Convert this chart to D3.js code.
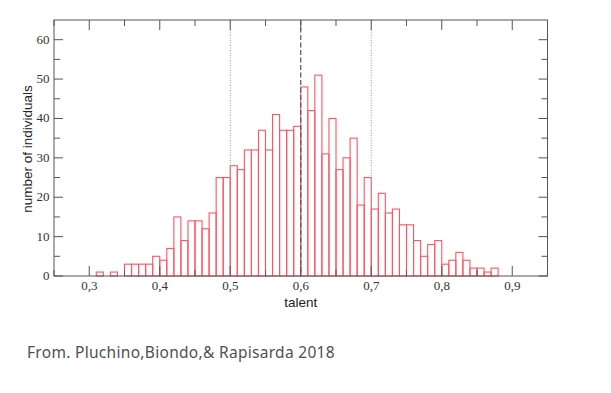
<!DOCTYPE html>
<html>
<head>
<meta charset="utf-8">
<script src="https://cdn.jsdelivr.net/npm/d3@7"></script>
<style>
  body{margin:0;background:#fff;}
  .tick_lbl{font-family:"Liberation Serif",serif;font-size:13px;fill:#333;}
  .axis_ttl{font-family:"Liberation Sans",Arial,sans-serif;font-size:13.5px;fill:#222;}
  .caption{font-family:"Noto Sans",sans-serif;font-size:15.5px;fill:#505050;letter-spacing:0.3px;}
  .bar{fill:none;stroke:#ff5563;stroke-width:1.1;}
  .frame{fill:none;stroke:#555;stroke-width:1;}
  .tk{stroke:#555;stroke-width:1;}
</style>
</head>
<body>
<svg></svg>
<script>
// histogram bins (left edge, width 0.01)
const bin_start = [0.31,0.32,0.33,0.34,0.35,0.36,0.37,0.38,0.39,0.40,
                   0.41,0.42,0.43,0.44,0.45,0.46,0.47,0.48,0.49,0.50,
                   0.51,0.52,0.53,0.54,0.55,0.56,0.57,0.58,0.59,0.60,
                   0.61,0.62,0.63,0.64,0.65,0.66,0.67,0.68,0.69,0.70,
                   0.71,0.72,0.73,0.74,0.75,0.76,0.77,0.78,0.79,0.80,
                   0.81,0.82,0.83,0.84,0.85,0.86,0.87];
const counts = [1,0,1,0,3,3,3,3,5,4,
                7,15,9,14,14,12,16,25,25,28,
                27,32,32,37,32,41,37,37,38,48,
                42,51,31,40,27,30,35,18,25,17,
                21,16,17,13,13,9,5,8,9,3,
                4,6,4,2,2,1,2];
const bin_w = 0.01;
const x_ticks = [0.3,0.4,0.5,0.6,0.7,0.8,0.9];
const x_minor = [0.25,0.35,0.45,0.55,0.65,0.75,0.85,0.95];
const y_ticks = [0,10,20,30,40,50,60];
const y_minor = [5,15,25,35,45,55];
const dotted_at = [0.5,0.7];
const dashed_at = [0.6];

const W = 611, H = 393;
const svg = d3.select("svg").attr("width",W).attr("height",H);

const x_scale = d3.scaleLinear().domain([0.25,0.95]).range([54,547.5]);
const y_scale = d3.scaleLinear().domain([0,65]).range([276,20]);
const fmt = v => d3.format(".1f")(v).replace(".",",");

// bars
const bars = bin_start.map((s,i)=>({s:s,c:counts[i]})).filter(d=>d.c>0);
svg.append("g").selectAll("rect").data(bars).enter()
  .append("rect").attr("class","bar")
  .attr("x",d=>x_scale(d.s)).attr("width",d=>x_scale(d.s+bin_w)-x_scale(d.s))
  .attr("y",d=>y_scale(d.c)).attr("height",d=>y_scale(0)-y_scale(d.c));

// reference lines
svg.append("g").selectAll("line").data(dotted_at).enter()
  .append("line").attr("x1",d=>x_scale(d)).attr("x2",d=>x_scale(d))
  .attr("y1",y_scale(65)).attr("y2",y_scale(0))
  .attr("stroke","#999").attr("stroke-width",1).attr("stroke-dasharray","1,1.5");
svg.append("g").selectAll("line").data(dashed_at).enter()
  .append("line").attr("x1",d=>x_scale(d)).attr("x2",d=>x_scale(d))
  .attr("y1",y_scale(65)).attr("y2",y_scale(0))
  .attr("stroke","#555").attr("stroke-width",1.2).attr("stroke-dasharray","5,2.5");

// frame
const [x0,x1] = x_scale.range(), [y0,y1] = y_scale.range();
svg.append("rect").attr("class","frame")
  .attr("x",x0).attr("y",y1).attr("width",x1-x0).attr("height",y0-y1);

// ticks pointing inward
function x_tick(v,len){
  const g = svg.append("g");
  g.append("line").attr("class","tk").attr("x1",x_scale(v)).attr("x2",x_scale(v))
    .attr("y1",y0).attr("y2",y0-len);
  g.append("line").attr("class","tk").attr("x1",x_scale(v)).attr("x2",x_scale(v))
    .attr("y1",y1).attr("y2",y1+len);
}
function y_tick(v,len){
  const g = svg.append("g");
  g.append("line").attr("class","tk").attr("x1",x0).attr("x2",x0+len)
    .attr("y1",y_scale(v)).attr("y2",y_scale(v));
  g.append("line").attr("class","tk").attr("x1",x1).attr("x2",x1-len)
    .attr("y1",y_scale(v)).attr("y2",y_scale(v));
}
x_ticks.forEach(v=>x_tick(v,10));
x_minor.forEach(v=>x_tick(v,6));
y_ticks.forEach(v=>y_tick(v,9));
y_minor.forEach(v=>y_tick(v,6));

// tick labels
svg.append("g").selectAll("text").data(x_ticks).enter()
  .append("text").attr("class","tick_lbl").attr("text-anchor","middle")
  .attr("x",d=>x_scale(d)).attr("y",y0+14).text(fmt);
svg.append("g").selectAll("text").data(y_ticks).enter()
  .append("text").attr("class","tick_lbl").attr("text-anchor","end")
  .attr("x",x0-4.5).attr("y",d=>y_scale(d)+4).text(d=>d);

// axis titles
svg.append("text").attr("class","axis_ttl").attr("text-anchor","middle")
  .attr("x",x_scale(0.6)).attr("y",307).text("talent");
svg.append("text").attr("class","axis_ttl").attr("text-anchor","middle")
  .attr("transform","translate(32,149) rotate(-90)")
  .text("number of individuals");

// source caption
svg.append("text").attr("class","caption").attr("x",27).attr("y",358)
  .text("From. Pluchino,Biondo,& Rapisarda 2018");
</script>
</body>
</html>
